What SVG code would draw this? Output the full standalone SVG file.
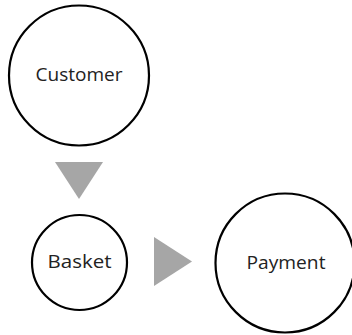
<svg xmlns="http://www.w3.org/2000/svg" width="352" height="335" viewBox="0 0 352 335">
  <style>
    .node circle { fill: #ffffff; stroke: #000000; stroke-width: 2.2; }
    .node text { font-family: "Open Sans", "Liberation Sans", sans-serif; font-size: 19px; fill: #222222; text-anchor: middle; dominant-baseline: central; }
    .arrow { fill: #a6a6a6; stroke: none; }
  </style>
  <rect width="352" height="335" fill="#ffffff"/>
  <g id="customer" class="node">
    <circle cx="79" cy="75.5" r="70"/>
    <text x="79" y="74" textLength="87" lengthAdjust="spacingAndGlyphs">Customer</text>
  </g>
  <g id="basket" class="node">
    <circle cx="79.5" cy="262.5" r="47.5"/>
    <text x="79.5" y="261" textLength="64" lengthAdjust="spacingAndGlyphs">Basket</text>
  </g>
  <g id="payment" class="node">
    <circle cx="285" cy="263" r="69.5"/>
    <text x="286" y="262" textLength="79" lengthAdjust="spacingAndGlyphs">Payment</text>
  </g>
  <g id="connectors">
    <polygon class="arrow" points="55,162 103,162 79,199"/>
    <polygon class="arrow" points="154,237 154,286 192,261.5"/>
  </g>
</svg>
